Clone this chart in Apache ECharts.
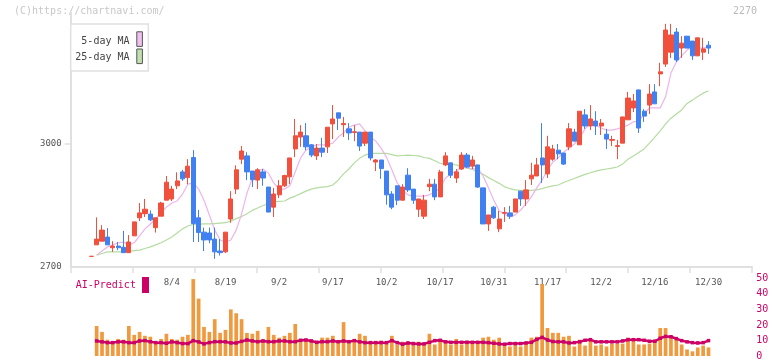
<!DOCTYPE html>
<html><head><meta charset="utf-8">
<script src="https://cdn.jsdelivr.net/npm/echarts@6/dist/echarts.min.js"></script>
<style>html,body{margin:0;padding:0;background:#fff}#c{width:772px;height:361px}</style>
</head><body><div id="c"></div>
<script>
const dates = ['7/11','7/14','7/15','7/16','7/17','7/18','7/22','7/23','7/24','7/25','7/28','7/29','7/30','7/31','8/1',
'8/4','8/5','8/6','8/7','8/8','8/12','8/13','8/14','8/15','8/18','8/19','8/20','8/21','8/22','8/25','8/26','8/27','8/28','8/29',
'9/1','9/2','9/3','9/4','9/5','9/8','9/9','9/10','9/11','9/12','9/16','9/17','9/18','9/19','9/22','9/24','9/25','9/26','9/29','9/30',
'10/1','10/2','10/3','10/6','10/7','10/8','10/9','10/10','10/14','10/15','10/16','10/17','10/20','10/21','10/22','10/23','10/24','10/27','10/28','10/29','10/30','10/31',
'11/4','11/5','11/6','11/7','11/10','11/11','11/12','11/13','11/14','11/17','11/18','11/19','11/20','11/21','11/25','11/26','11/27','11/28',
'12/1','12/2','12/3','12/4','12/5','12/8','12/9','12/10','12/11','12/12','12/15','12/16','12/17','12/18','12/19','12/22','12/23','12/24','12/25','12/26','12/29','12/30'];
const tickLabels = ['8/4','8/19','9/2','9/17','10/2','10/17','10/31','11/17','12/2','12/16','12/30'];
const priceLabels = [2700, 3000];
const volLabels = [0, 10, 20, 30, 40, 50];

const openP = [2726,2754,2763,2773,2747,2751,2748,2735,2776,2820,
2830,2829,2796,2824,2863,2866,2898,2932,2918,2967,
2820,2785,2783,2768,2739,2737,2817,2890,2963,2971,
2934,2912,2932,2895,2846,2876,2898,2920,2988,3017,
3020,2998,2971,2990,2993,3049,3076,3047,3037,3028,
3029,3002,3029,2956,2961,2934,2878,2898,2863,2924,
2890,2841,2824,2896,2902,2871,2949,2954,2917,2939,
2973,2946,2949,2893,2805,2846,2793,2831,2832,2834,
2885,2866,2915,2922,2966,2927,2963,2985,2978,2993,
3029,2998,3071,3044,3056,3044,3024,3009,2994,3002,
3059,3088,3132,3080,3095,3127,3171,3195,3224,3273,
3234,3263,3251,3215,3224,3241];
const highP = [2726,2821,2802,2795,2763,2761,2788,2778,2810,2856,
2866,2838,2820,2859,2922,2898,2931,2937,2963,2985,
2839,2796,2796,2796,2768,2785,2885,2948,2995,2980,
2934,2941,2939,2895,2893,2912,2925,2966,3061,3046,
3051,3000,3000,3015,3041,3095,3076,3066,3051,3046,
3029,3029,3029,2963,2961,2934,2885,2898,2902,2941,
2890,2866,2876,2915,2915,2937,2980,2954,2939,2980,
2978,2971,2949,2893,2827,2849,2837,2846,2849,2866,
2885,2912,2954,2966,3051,3020,2998,3000,2978,3051,
3037,3080,3085,3095,3080,3061,3037,3020,3010,3066,
3127,3122,3132,3085,3146,3146,3198,3293,3293,3283,
3263,3263,3251,3259,3259,3251];
const lowP = [2726,2754,2763,2754,2737,2741,2735,2735,2776,2812,
2822,2812,2784,2824,2863,2861,2890,2910,2902,2761,
2761,2739,2758,2720,2728,2734,2808,2878,2951,2912,
2895,2890,2898,2834,2822,2868,2895,2902,2968,2993,
2985,2968,2961,2968,2978,3012,3034,3017,3010,3007,
2983,2995,2960,2934,2915,2852,2841,2851,2863,2883,
2854,2822,2817,2885,2863,2871,2946,2917,2905,2937,
2941,2939,2893,2805,2788,2817,2785,2810,2817,2834,
2849,2849,2900,2922,2905,2917,2959,2963,2949,2985,
3007,2998,3037,3034,3022,3022,2988,2995,2963,3002,
3059,3078,3027,3054,3073,3098,3141,3188,3210,3200,
3210,3234,3205,3215,3205,3220];
const closeP = [2726,2768,2790,2754,2751,2747,2735,2761,2810,2832,
2841,2815,2820,2856,2907,2890,2910,2915,2946,2806,
2784,2766,2766,2737,2735,2785,2866,2937,2983,2932,
2913,2937,2917,2834,2878,2898,2923,2966,3020,3029,
2993,2973,2990,2980,3041,3061,3063,3050,3027,3030,
2995,3029,2966,2961,2940,2876,2846,2863,2895,2888,
2863,2866,2863,2902,2871,2932,2971,2924,2932,2973,
2944,2961,2895,2805,2827,2820,2817,2833,2824,2866,
2866,2888,2924,2949,2949,2993,2988,2976,2951,3037,
3007,3080,3044,3061,3044,3051,3012,3011,2996,3066,
3112,3105,3039,3068,3122,3098,3176,3278,3266,3205,
3246,3234,3215,3259,3232,3234];
const ma5 = [null,2729,2739,2749,2754,2759,2761,2754,2759,2776,2793,
2805,2817,2832,2846,2856,2861,2878,2902,2905,2890,
2863,2827,2790,2766,2761,2766,2790,2829,2880,2917,
2934,2939,2929,2905,2890,2890,2898,2932,2966,2985,
2993,2998,2998,2998,3002,3017,3027,3041,3046,3049,
3032,3017,3007,2990,2968,2937,2905,2888,2876,2873,
2873,2873,2876,2883,2893,2917,2927,2934,2941,2944,
2939,2941,2922,2893,2863,2837,2829,2822,2827,2839,
2854,2871,2893,2912,2937,2956,2966,2980,2990,3000,
3015,3037,3049,3046,3039,3034,3034,3037,3041,3046,
3054,3056,3073,3088,3088,3088,3115,3173,3200,3215,
3229,3237,3234,3234,3237];
const ma25 = [null,2729,2733,2737,2737,2737,2737,2738,2740,2741,2745,
2749,2754,2759,2766,2773,2783,2793,2800,2804,2804,
2805,2805,2806,2807,2808,2812,2818,2823,2830,2838,
2844,2850,2854,2859,2860,2861,2868,2873,2879,2885,
2890,2893,2895,2896,2900,2912,2927,2939,2954,2965,
2973,2977,2977,2977,2977,2974,2971,2972,2973,2972,
2971,2967,2965,2959,2953,2951,2950,2949,2945,2941,
2938,2932,2926,2918,2911,2904,2896,2891,2888,2887,
2887,2887,2888,2891,2895,2898,2900,2906,2911,2916,
2921,2926,2930,2934,2937,2939,2941,2944,2951,2963,
2971,2979,2988,3002,3017,3032,3049,3063,3073,3083,
3099,3107,3116,3124,3130];
const volume = [null,19.3,15.5,10.5,9,11,10.5,19.3,13.6,15.5,13,
12.4,8.6,11,14.3,11,10.5,12.4,13.6,49.5,36.9,
18.7,15.5,23.7,14.9,16.8,30,27.5,23.7,14.9,14.3,
16.2,10.5,18.7,13.6,11.8,13,14.9,20.6,10.5,11,
9.2,9.2,11.8,11.8,13,9.9,21.8,9.9,10.5,14.3,
13,9.2,9.2,9.9,8,13,7.4,9.2,8,7.4,
9.2,8,14.3,7.4,9.9,9.9,7.4,11,7.4,9.9,
8.6,8.6,11.8,12.4,10.5,11.8,7.4,6.1,7.4,6.1,
8,11.8,12.4,46.3,18,14.9,14.9,12.4,13,6.1,
10.5,6.7,10.5,6.7,7.4,6.1,8,8,8,11.8,
9.9,7.4,7.4,8,10.5,18,18,13,10.5,7.4,
4.2,3,5.5,6.7,5.5];
const aiPredict = [null,9.7,9.1,8.6,8.6,9.1,9.1,8.6,8.6,9.7,9.9,
9.2,8.6,8.6,8.2,9.1,8.6,8,8,9.9,9.1,
7.8,8.6,9.2,9.2,9.1,8.4,8.4,9.4,10.3,9.7,
9.2,9.7,9.2,9.2,9.7,9.7,9.2,9.2,10.1,10.3,
9.7,8.8,9.2,9.2,9.7,9.2,9.7,9.2,9.9,9.1,
8.6,8.6,8.6,8.6,8.6,9.9,8.6,7.6,8.4,8,
7.8,7.8,8.8,9.9,10.1,9.1,8.8,8.8,8.8,8.8,
8.8,8.8,8.8,8.6,8.2,7.8,7.6,8,8,8,
8.4,8.8,10.7,12,10.3,9.3,9.1,9.1,8.4,8.6,
9.1,10.1,10.5,9.1,9.1,9.1,9.1,9.1,9.7,10.5,
10.5,10.5,10.1,9.5,9.5,11.4,12.6,12.4,11.2,9.9,
9.1,8.6,8.4,8.6,9.9];

const candles = dates.map((d, i) => [openP[i], closeP[i], lowP[i], highP[i]]);
const MONO = 'DejaVu Sans Mono';
const UP = '#f0503c', DOWN = '#4080f0', MAG = '#cc0066';
const PMIN = 2700, PMAX = 3320;

const chart = echarts.init(document.getElementById('c'), null, {renderer: 'canvas'});
chart.setOption({
  animation: false,
  backgroundColor: '#fff',
  grid: [
    {left: 88.6, right: 60.8, top: 12.8, height: 254.2},
    {left: 70.7, right: 20, top: 12.8, height: 254.2},
    {left: 88.6, right: 60.8, top: 278.3, height: 79.4}
  ],
  xAxis: [
    {type: 'category', gridIndex: 0, data: dates, boundaryGap: true,
     axisLine: {show: false}, axisTick: {show: false}, splitLine: {show: false},
     axisLabel: {interval: (idx, val) => tickLabels.includes(val), color: '#555', fontFamily: MONO, fontSize: 9, margin: 11, hideOverlap: false}},
    {type: 'value', gridIndex: 1, min: 0, max: 11, interval: 1,
     axisLine: {show: true, lineStyle: {color: '#e0e0e0', width: 2}},
     axisTick: {show: true, length: 6, lineStyle: {color: '#e0e0e0', width: 1.5}},
     axisLabel: {show: false}, splitLine: {show: false}},
    {type: 'category', gridIndex: 2, data: dates, boundaryGap: true, show: false}
  ],
  yAxis: [
    {type: 'value', gridIndex: 0, min: PMIN, max: PMAX, show: false, splitLine: {show: false}},
    {type: 'value', gridIndex: 1, min: PMIN, max: PMAX, interval: 300,
     axisLine: {show: true, lineStyle: {color: '#e0e0e0', width: 2}},
     axisTick: {show: true, length: 6, customValues: [3000], lineStyle: {color: '#e0e0e0', width: 1.5}},
     axisLabel: {customValues: priceLabels, formatter: v => String(v), color: '#555', fontFamily: MONO, fontSize: 9, margin: 9},
     splitLine: {show: false}},
    {type: 'value', gridIndex: 2, min: 0, max: 50, interval: 10, position: 'right',
     axisLine: {show: false}, axisTick: {show: false}, splitLine: {show: false},
     axisLabel: {color: MAG, fontFamily: MONO, fontSize: 10, margin: 45, formatter: v => volLabels.includes(v) ? String(v) : ''}}
  ],
  series: [
    {type: 'line', name: '25-day MA', xAxisIndex: 0, yAxisIndex: 0, data: ma25, symbol: 'none',
     lineStyle: {color: '#b4dca0', width: 1.2}, z: 2},
    {type: 'line', name: '5-day MA', xAxisIndex: 0, yAxisIndex: 0, data: ma5, symbol: 'none',
     lineStyle: {color: '#ecb4ec', width: 1.2}, z: 2},
    {type: 'candlestick', xAxisIndex: 0, yAxisIndex: 0, data: candles, barWidth: 4.7,
     itemStyle: {color: UP, color0: DOWN, borderColor: UP, borderColor0: DOWN, borderWidth: 1}, z: 3},
    {type: 'bar', xAxisIndex: 2, yAxisIndex: 2, data: volume, barWidth: 3.7,
     itemStyle: {color: '#f09a40'}, z: 2},
    {type: 'line', xAxisIndex: 2, yAxisIndex: 2, data: aiPredict, symbol: 'rect', symbolSize: 3.5,
     lineStyle: {color: MAG, width: 2.5}, itemStyle: {color: MAG}, z: 3}
  ],
  graphic: [
    {type: 'text', left: 14, top: 6, style: {text: '(C)https://chartnavi.com/', fill: '#c8c8c8', font: '10px "DejaVu Sans Mono"'}},
    {type: 'text', right: 15, top: 6, style: {text: '2270', fill: '#bbb', font: '10px "DejaVu Sans Mono"'}},
    {type: 'rect', shape: {x: 70.7, y: 24, width: 77.6, height: 47}, style: {fill: '#fff', stroke: '#e0e0e0', lineWidth: 1.5}, z: 10},
    {type: 'text', x: 129.5, y: 41.5, style: {text: '5-day MA', fill: '#444', font: '10px "DejaVu Sans Mono"', align: 'right', verticalAlign: 'middle'}, z: 11},
    {type: 'text', x: 129.5, y: 57.5, style: {text: '25-day MA', fill: '#444', font: '10px "DejaVu Sans Mono"', align: 'right', verticalAlign: 'middle'}, z: 11},
    {type: 'rect', shape: {x: 136.8, y: 31.8, width: 5.6, height: 14.6}, style: {fill: '#f0c0f0', stroke: '#555', lineWidth: 1}, z: 11},
    {type: 'rect', shape: {x: 136.8, y: 49, width: 5.6, height: 14.6}, style: {fill: '#c0e0b0', stroke: '#555', lineWidth: 1}, z: 11},
    {type: 'text', x: 75.7, y: 285.5, style: {text: 'AI-Predict', fill: MAG, font: '10px "DejaVu Sans Mono"', verticalAlign: 'middle'}, z: 11},
    {type: 'rect', shape: {x: 142, y: 277, width: 7, height: 16}, style: {fill: MAG}, z: 11}
  ]
});
</script>
</body></html>
